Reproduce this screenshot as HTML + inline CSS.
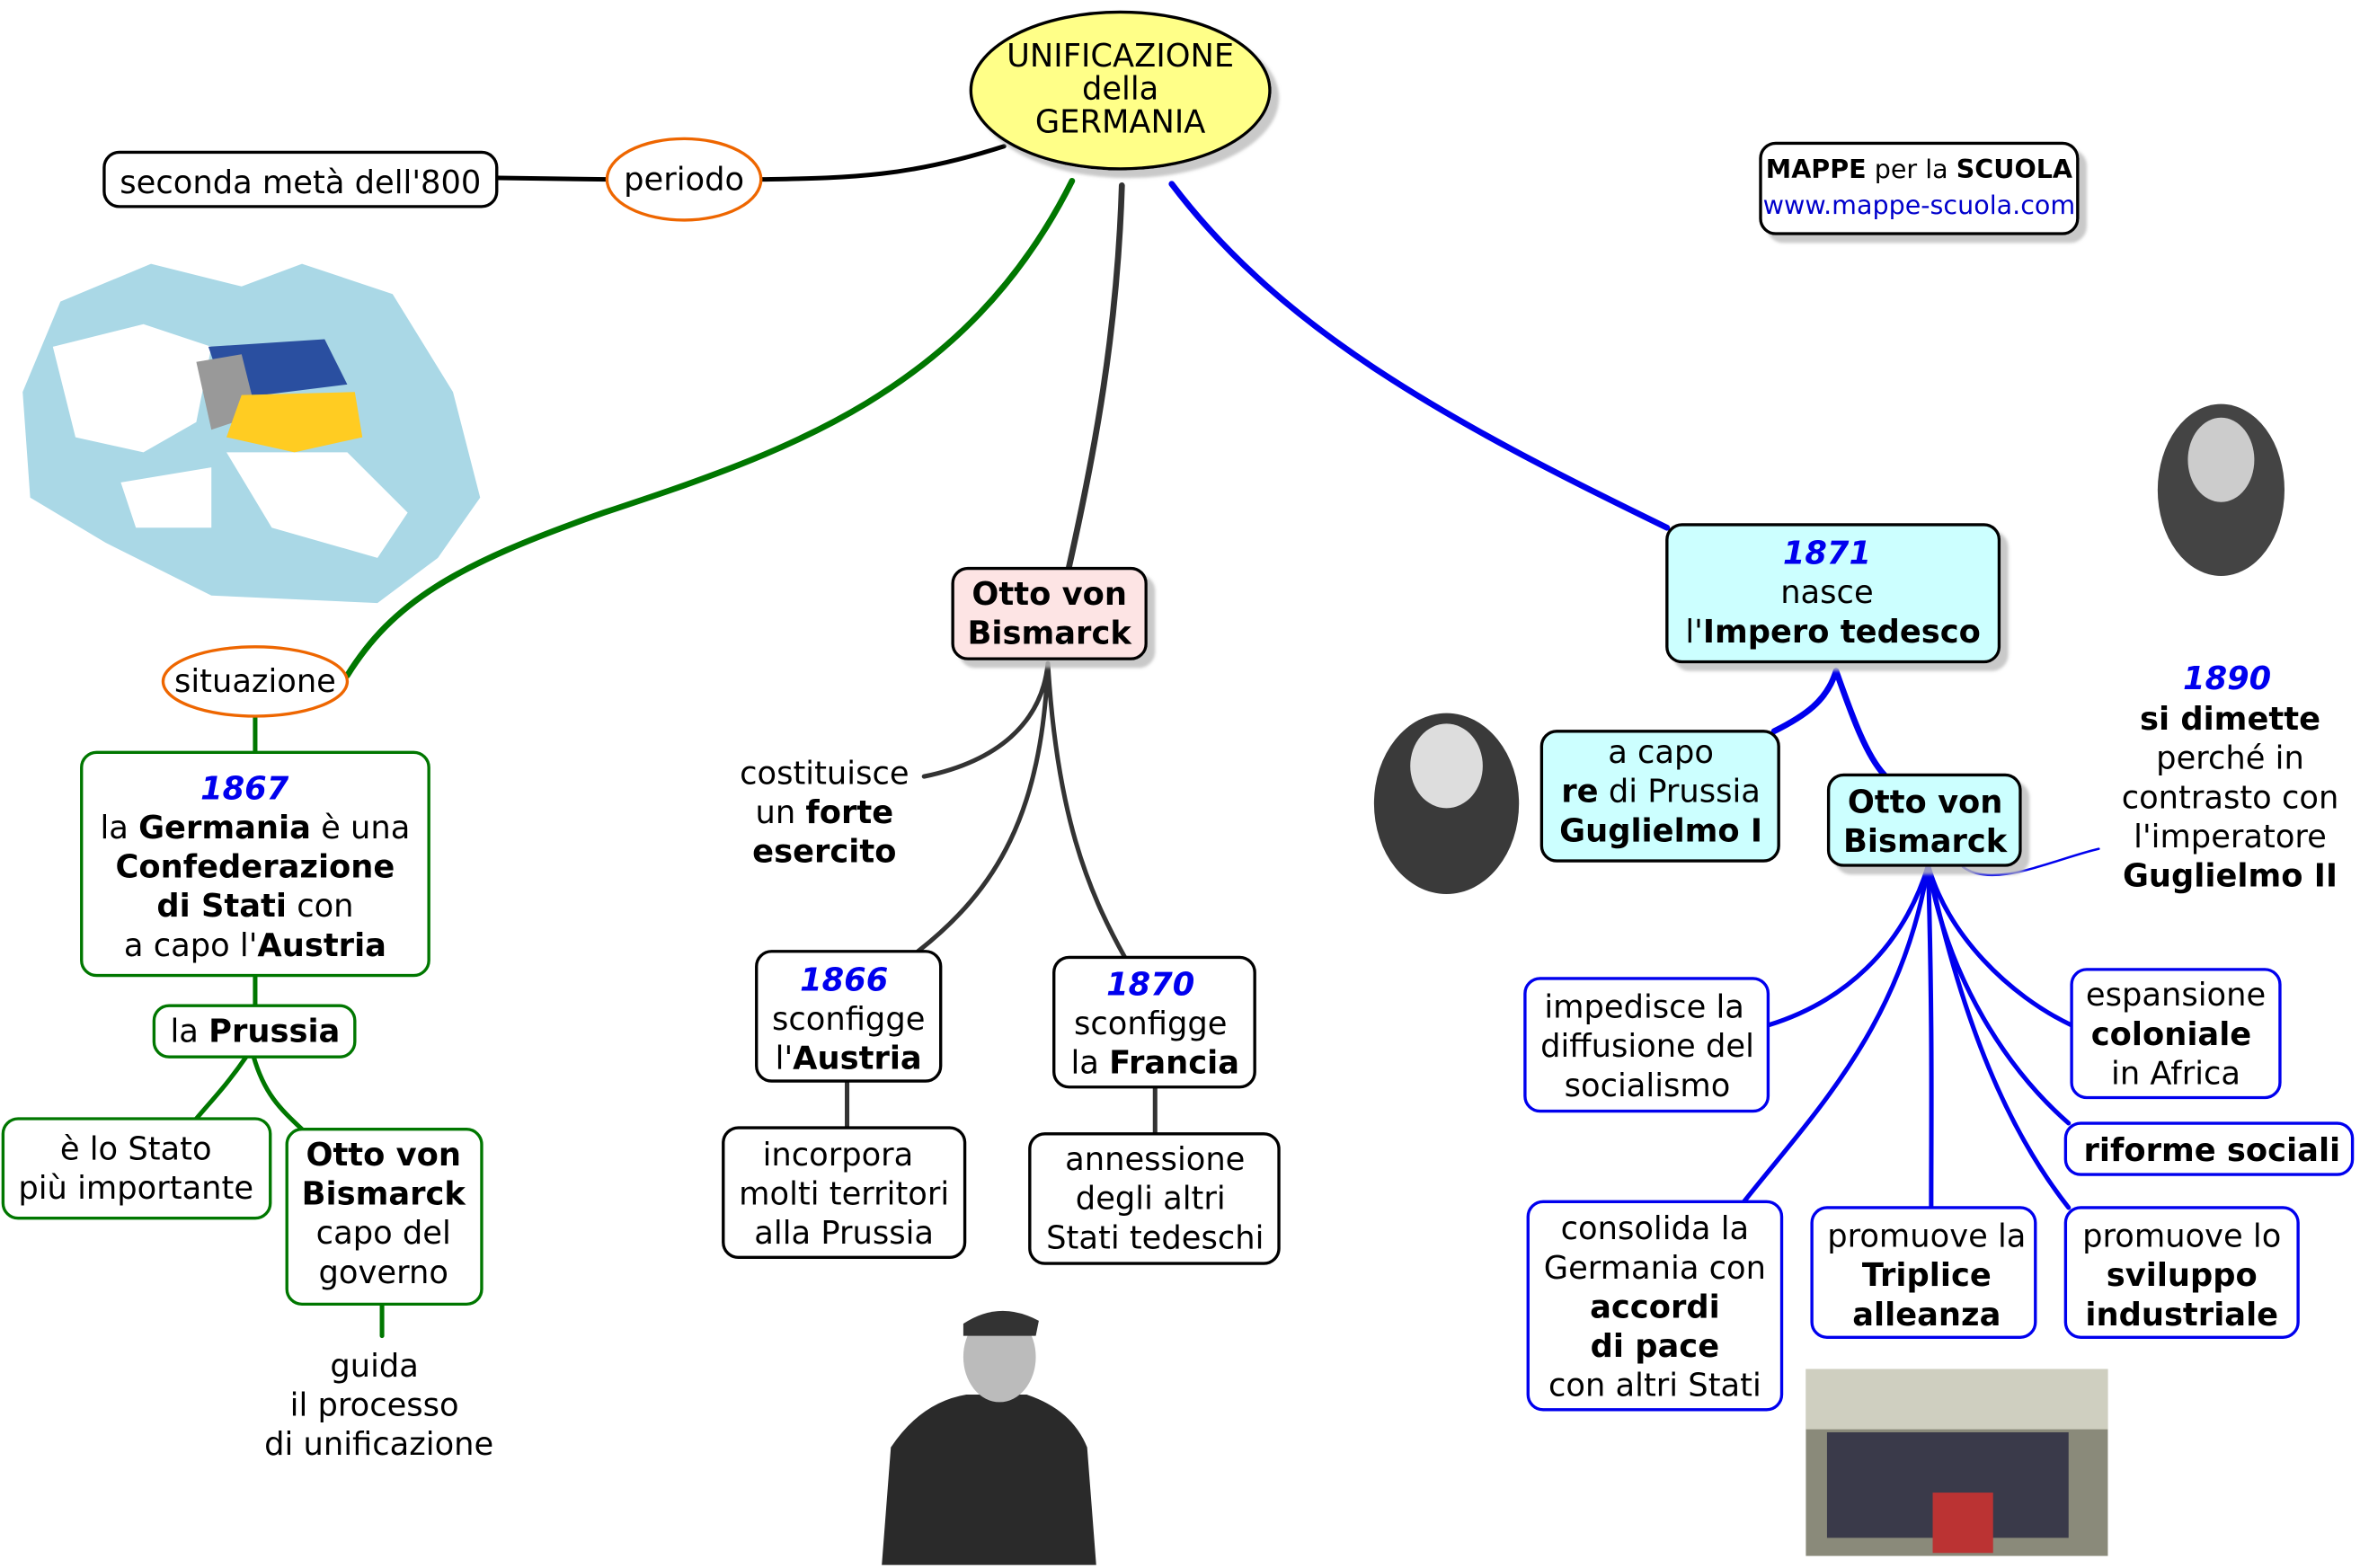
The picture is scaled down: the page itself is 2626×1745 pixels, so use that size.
<!DOCTYPE html>
<html><head><meta charset="utf-8"><style>
html,body{margin:0;padding:0;background:#fff;}
svg{display:block;}
text{font-family:"DejaVu Sans","Liberation Sans",sans-serif;font-size:21px;fill:#000;text-anchor:middle;}
.b{font-weight:bold;}
.y{font-weight:bold;font-style:italic;fill:#0000ee;}
</style></head><body>
<svg width="2626" height="1745" viewBox="0 0 1563 1040" preserveAspectRatio="none" xmlns="http://www.w3.org/2000/svg">
<defs><filter id="sh" x="-10%" y="-10%" width="130%" height="130%"><feOffset dx="5" dy="5"/><feGaussianBlur stdDeviation="1"/><feColorMatrix values="0 0 0 0 0.5 0 0 0 0 0.5 0 0 0 0 0.5 0 0 0 0.8 0"/><feMerge><feMergeNode/><feMergeNode in="SourceGraphic"/></feMerge></filter></defs>

<!-- connectors -->
<g fill="none" stroke-linecap="round">
<path d="M665,97 C600,118 560,118 505,119" stroke="#000" stroke-width="3"/>
<path d="M402,119 L330,118" stroke="#000" stroke-width="3"/>
<path d="M710,120 C640,260 520,300 400,340 C300,375 260,400 230,448" stroke="#007700" stroke-width="4"/>
<path d="M743,123 C740,220 725,300 708,376" stroke="#333" stroke-width="4"/>
<path d="M776,122 C850,220 960,280 1104,350" stroke="#0000ee" stroke-width="4"/>
<path d="M169,475 V499 M169,647 V667 M163,701 C150,720 140,730 130,742 M168,701 C175,725 185,735 200,749 M253,866 V886" stroke="#007700" stroke-width="3"/>
<path d="M694,440 C690,480 660,505 612,515 M694,440 C690,540 660,590 608,631 M694,440 C700,540 720,590 745,635 M561,717 V748 M765,721 V752" stroke="#333" stroke-width="3"/>
<path d="M1216,445 C1210,465 1195,475 1175,485 M1216,445 C1225,470 1235,500 1248,514" stroke="#0000ee" stroke-width="4"/>
<g stroke="#0000ee" stroke-width="3">
<path d="M1277,574 C1260,630 1220,665 1171,680"/>
<path d="M1277,574 C1260,680 1200,740 1155,797"/>
<path d="M1277,574 C1280,680 1279,740 1279,801"/>
<path d="M1277,574 C1300,680 1330,750 1370,801"/>
<path d="M1277,574 C1290,650 1330,710 1370,745"/>
<path d="M1277,574 C1290,620 1330,660 1372,680"/>
<path d="M1300,575 C1320,590 1360,570 1390,563" stroke-width="1.5"/>
</g>
</g>

<!-- title -->
<ellipse cx="742" cy="60" rx="99" ry="52" fill="#ffff88" stroke="#000" stroke-width="2" filter="url(#sh)"/>
<text x="742" y="44">UNIFICAZIONE</text><text x="742" y="66">della</text><text x="742" y="88">GERMANIA</text>

<rect x="69" y="101" width="260" height="36" rx="10" fill="#fff" stroke="#000" stroke-width="2"/>
<text x="199" y="128">seconda metà dell'800</text>
<ellipse cx="453" cy="119" rx="51" ry="27" fill="#fff" stroke="#ee6600" stroke-width="2"/>
<text x="453" y="126">periodo</text>

<rect x="1166" y="95" width="210" height="60" rx="10" fill="#fff" stroke="#000" stroke-width="2" filter="url(#sh)"/>
<text x="1271" y="118" style="font-size:17px"><tspan class="b">MAPPE</tspan> per la <tspan class="b">SCUOLA</tspan></text>
<text x="1271" y="142" style="font-size:17px;fill:#0000cc">www.mappe-scuola.com</text>

<!-- map -->
<g>
<path d="M40,200 L100,175 L160,190 L200,175 L260,195 L300,260 L318,330 L290,370 L250,400 L140,395 L70,360 L20,330 L15,260 Z" fill="#aad8e6"/>
<path d="M35,230 L95,215 L140,230 L130,280 L95,300 L50,290 Z M150,300 L230,300 L270,340 L250,370 L180,350 Z M80,320 L140,310 L140,350 L90,350 Z" fill="#fff"/>
<path d="M138,230 L215,225 L230,255 L150,265 Z" fill="#2a4fa0"/>
<path d="M130,240 L160,235 L170,275 L140,285 Z" fill="#999"/>
<path d="M160,262 L235,260 L240,290 L195,300 L150,290 Z" fill="#ffcc22"/>
</g>

<!-- left -->
<ellipse cx="169" cy="452" rx="61" ry="23" fill="#fff" stroke="#ee6600" stroke-width="2"/>
<text x="169" y="459">situazione</text>
<rect x="54" y="499" width="230" height="148" rx="10" fill="#fff" stroke="#007700" stroke-width="2"/>
<text x="162" y="530" class="y">1867</text>
<text x="169" y="556">la <tspan class="b">Germania</tspan> è una</text>
<text x="169" y="582" class="b">Confederazione</text>
<text x="169" y="608"><tspan class="b">di Stati</tspan> con</text>
<text x="169" y="634">a capo l'<tspan class="b">Austria</tspan></text>
<rect x="102" y="667" width="133" height="34" rx="10" fill="#fff" stroke="#007700" stroke-width="2"/>
<text x="169" y="691">la <tspan class="b">Prussia</tspan></text>
<rect x="2" y="742" width="177" height="66" rx="10" fill="#fff" stroke="#007700" stroke-width="2"/>
<text x="90" y="769">è lo Stato</text><text x="90" y="795">più importante</text>
<rect x="190" y="749" width="129" height="116" rx="10" fill="#fff" stroke="#007700" stroke-width="2"/>
<text x="254" y="773" class="b">Otto von</text><text x="254" y="799" class="b">Bismarck</text>
<text x="254" y="825">capo del</text><text x="254" y="851">governo</text>
<text x="248" y="913">guida</text><text x="248" y="939">il processo</text><text x="251" y="965">di unificazione</text>

<!-- center -->
<rect x="631" y="377" width="128" height="60" rx="10" fill="#fde4e4" stroke="#000" stroke-width="2" filter="url(#sh)"/>
<text x="695" y="401" class="b">Otto von</text><text x="695" y="427" class="b">Bismarck</text>
<text x="546" y="520">costituisce</text><text x="546" y="546">un <tspan class="b">forte</tspan></text><text x="546" y="572" class="b">esercito</text>
<rect x="501" y="631" width="122" height="86" rx="10" fill="#fff" stroke="#000" stroke-width="2"/>
<text x="559" y="657" class="y">1866</text><text x="562" y="683">sconfigge</text><text x="562" y="709">l'<tspan class="b">Austria</tspan></text>
<rect x="479" y="748" width="160" height="86" rx="10" fill="#fff" stroke="#000" stroke-width="2"/>
<text x="555" y="773">incorpora</text><text x="559" y="799">molti territori</text><text x="559" y="825">alla Prussia</text>
<rect x="698" y="635" width="133" height="86" rx="10" fill="#fff" stroke="#000" stroke-width="2"/>
<text x="762" y="660" class="y">1870</text><text x="762" y="686">sconfigge</text><text x="765" y="712">la <tspan class="b">Francia</tspan></text>
<rect x="682" y="752" width="165" height="86" rx="10" fill="#fff" stroke="#000" stroke-width="2"/>
<text x="765" y="776">annessione</text><text x="762" y="802">degli altri</text><text x="765" y="828">Stati tedeschi</text>
<!-- bismarck photo -->
<g>
<path d="M584,1038 L590,960 Q610,930 640,925 L680,925 Q710,935 720,960 L726,1038 Z" fill="#2a2a2a"/>
<ellipse cx="662" cy="900" rx="24" ry="30" fill="#bbb"/>
<path d="M638,878 Q662,862 688,876 L686,886 L638,886 Z" fill="#333"/>
</g>

<!-- right -->
<rect x="1104" y="348" width="220" height="91" rx="10" fill="#ccffff" stroke="#000" stroke-width="2" filter="url(#sh)"/>
<text x="1210" y="374" class="y">1871</text><text x="1210" y="400">nasce</text>
<text x="1214" y="426">l'<tspan class="b">Impero tedesco</tspan></text>
<ellipse cx="1471" cy="325" rx="42" ry="57" fill="#444"/>
<ellipse cx="1471" cy="305" rx="22" ry="28" fill="#ccc"/>
<text x="1475" y="457" class="y">1890</text>
<text x="1477" y="484" class="b">si dimette</text><text x="1477" y="510">perché in</text>
<text x="1477" y="536">contrasto con</text><text x="1477" y="562">l'imperatore</text>
<text x="1477" y="588" class="b">Guglielmo II</text>
<ellipse cx="958" cy="533" rx="48" ry="60" fill="#3a3a3a"/>
<ellipse cx="958" cy="508" rx="24" ry="28" fill="#ddd"/>
<rect x="1021" y="485" width="157" height="86" rx="10" fill="#ccffff" stroke="#000" stroke-width="2"/>
<text x="1100" y="506">a capo</text><text x="1100" y="532"><tspan class="b">re</tspan> di Prussia</text><text x="1100" y="558" class="b">Guglielmo I</text>
<rect x="1211" y="514" width="127" height="60" rx="10" fill="#ccffff" stroke="#000" stroke-width="2" filter="url(#sh)"/>
<text x="1275" y="539" class="b">Otto von</text><text x="1275" y="565" class="b">Bismarck</text>

<g fill="#fff" stroke="#0000ee" stroke-width="2">
<rect x="1010" y="649" width="161" height="88" rx="10"/>
<rect x="1372" y="643" width="138" height="85" rx="10"/>
<rect x="1368" y="745" width="190" height="34" rx="10"/>
<rect x="1012" y="797" width="168" height="138" rx="10"/>
<rect x="1200" y="801" width="148" height="86" rx="10"/>
<rect x="1368" y="801" width="154" height="86" rx="10"/>
</g>
<text x="1089" y="675">impedisce la</text><text x="1091" y="701">diffusione del</text><text x="1091" y="727">socialismo</text>
<text x="1441" y="667">espansione</text><text x="1438" y="693" class="b">coloniale</text><text x="1441" y="719">in Africa</text>
<text x="1465" y="770" class="b">riforme sociali</text>
<text x="1096" y="822">consolida la</text><text x="1096" y="848">Germania con</text>
<text x="1096" y="874" class="b">accordi</text><text x="1096" y="900" class="b">di pace</text><text x="1096" y="926">con altri Stati</text>
<text x="1276" y="827">promuove la</text><text x="1276" y="853" class="b">Triplice</text><text x="1276" y="879" class="b">alleanza</text>
<text x="1445" y="827">promuove lo</text><text x="1445" y="853" class="b">sviluppo</text><text x="1445" y="879" class="b">industriale</text>

<!-- painting -->
<rect x="1196" y="908" width="200" height="124" fill="#8a8a7a"/>
<rect x="1196" y="908" width="200" height="40" fill="#cfcfc0"/>
<rect x="1210" y="950" width="160" height="70" fill="#3a3a4a"/>
<rect x="1280" y="990" width="40" height="40" fill="#b33"/>
</svg>
</body></html>
